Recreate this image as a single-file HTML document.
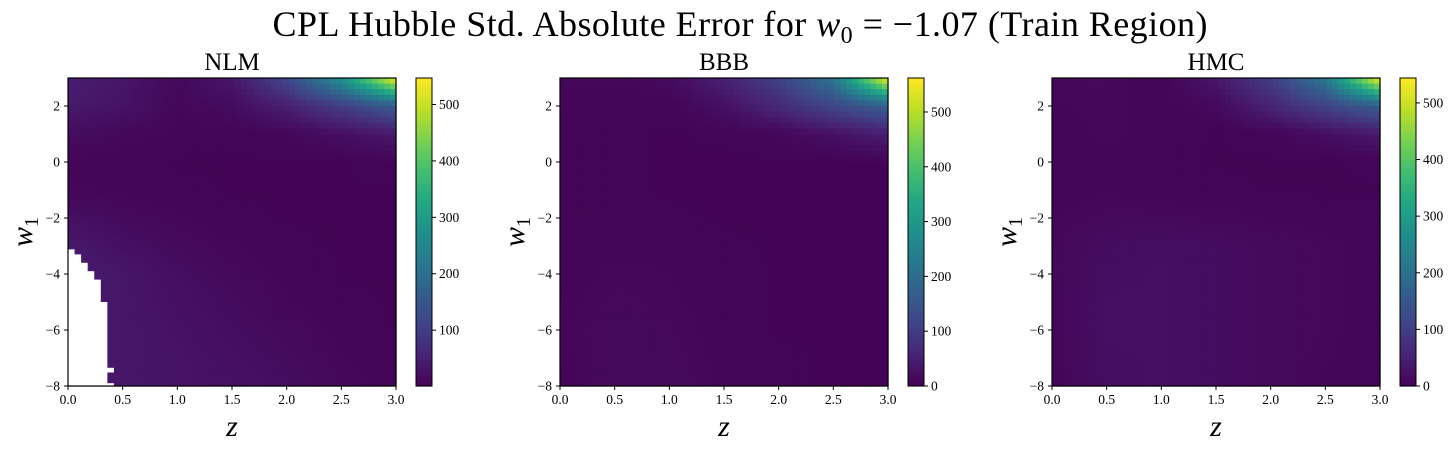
<!DOCTYPE html>
<html><head><meta charset="utf-8">
<style>
body{margin:0;background:#fff;width:1456px;height:448px;overflow:hidden;font-family:"Liberation Serif",serif;}
svg text{font-family:"Liberation Serif",serif;fill:#000;}
</style></head>
<body>
<svg id="fig" width="1456" height="448" xmlns="http://www.w3.org/2000/svg">
<text x="740" y="36" font-size="36" text-anchor="middle" textLength="935" lengthAdjust="spacing">CPL Hubble Std.  Absolute Error for <tspan font-style="italic">w</tspan><tspan font-size="24" dy="7">0</tspan><tspan dy="-7"> = −1.07 (Train Region)</tspan></text>
</svg>
<script>
// grid node positions
const zNodes = [0, 0.5, 1.0, 1.5, 2.0, 2.5, 3.0];
const w1Nodes = [3, 2, 1, 0, -1, -2, -3, -4, -5, -6, -7, -8];
const xTicks = [0.0, 0.5, 1.0, 1.5, 2.0, 2.5, 3.0];
const yTicks = [2, 0, -2, -4, -6, -8];
const panelTitles = ["NLM", "BBB", "HMC"];
const cbMax = [547, 562, 544];
const cbMin = [1, 0, 0];
const cbTicksNLM = [100, 200, 300, 400, 500];
const cbTicksBBB = [0, 100, 200, 300, 400, 500];
const cbTicksHMC = [0, 100, 200, 300, 400, 500];
const valuesNLM = [
 [45,35,12,35,120,280,545],
 [40,30,10,18,50,100,160],
 [20,12,8,6,10,22,40],
 [8,6,5,5,5,5,8],
 [10,8,6,5,5,5,5],
 [25,15,10,6,5,5,5],
 [40,25,15,10,6,5,5],
 [45,35,22,14,8,5,5],
 [40,35,25,18,10,6,5],
 [40,35,28,20,14,8,5],
 [40,35,30,24,18,10,6],
 [40,35,30,26,20,12,8]];
const valuesBBB = [
 [10,10,15,55,110,220,560],
 [8,6,5,25,65,120,170],
 [6,5,4,5,10,25,50],
 [6,5,4,4,4,4,4],
 [6,5,4,4,4,4,4],
 [6,6,5,4,4,4,4],
 [6,8,7,5,4,4,4],
 [6,10,9,6,4,4,4],
 [7,12,10,6,4,4,4],
 [8,14,12,6,4,4,4],
 [7,14,13,7,5,4,4],
 [6,14,14,8,5,4,4]];
const valuesHMC = [
 [10,12,5,35,100,220,545],
 [8,10,6,12,55,110,160],
 [6,10,6,4,6,20,40],
 [5,6,5,4,4,4,5],
 [6,8,6,5,4,4,4],
 [8,12,12,10,8,6,5],
 [10,18,20,18,14,10,6],
 [10,20,22,18,14,10,6],
 [8,22,22,18,14,10,6],
 [8,22,22,18,14,10,6],
 [7,21,22,18,14,9,5],
 [6,20,22,18,14,8,4]];
// NaN (white) region for NLM
const nanTop = [-3.12, -3.3, -3.6, -3.9, -4.2, -5.0, -7.35, -7.5];
const nanBottom = [-3.3, -3.6, -3.9, -4.2, -5.0, -7.35, -7.5, -7.9];
const nanZmax = [0.06, 0.12, 0.18, 0.24, 0.30, 0.36, 0.42, 0.36];
const nanLastTop = -7.9, nanLastZ = 0.42;

const NS = "http://www.w3.org/2000/svg";
const svg = document.getElementById('fig');
const panelX = [68, 560, 1052];
const AW = 328, AH = 308, AT = 78;
const allVals = [valuesNLM, valuesBBB, valuesHMC];
const allCbTicks = [cbTicksNLM, cbTicksBBB, cbTicksHMC];

const vir = [[68,1,84],[72,35,116],[64,67,135],[52,94,141],[41,120,142],[32,144,140],[34,167,132],[68,190,112],[121,209,81],[189,223,38],[253,231,37]];
function viridis(t){t=Math.max(0,Math.min(1,t));const f=t*10,i=Math.min(9,Math.floor(f)),r=f-i;const a=vir[i],b=vir[i+1];return 'rgb('+a.map((v,k)=>Math.round(v+(b[k]-v)*r)).join(',')+')';}
function mk(tag,attrs,parent){const e=document.createElementNS(NS,tag);for(const k in attrs)e.setAttribute(k,attrs[k]);(parent||svg).appendChild(e);return e;}
function sample(vals,z,w){
 const zi=Math.min(zNodes.length-2,Math.floor(z/0.5)),zr=(z-zNodes[zi])/0.5;
 const wi=Math.min(w1Nodes.length-2,Math.floor(3-w)),wr=(w1Nodes[wi]-w);
 const a=vals[wi][zi],b=vals[wi][zi+1],c=vals[wi+1][zi],d=vals[wi+1][zi+1];
 return (a*(1-zr)+b*zr)*(1-wr)+(c*(1-zr)+d*zr)*wr;
}

for(let p=0;p<3;p++){
 const X0=panelX[p];
 const xs=z=>X0+z/3*AW;
 const ys=w=>AT+(3-w)/11*AH;
 const g=mk('g',{});
 
 
 const N=55, M=55;
 for(let j=0;j<M;j++){
  for(let i=0;i<N;i++){
   const z=(i+0.5)/N*3, w=3-(j+0.5)/M*11;
   const v=sample(allVals[p],z,w);
   const r=mk('rect',{x:(xs(i/N*3)).toFixed(2),y:(ys(3-j/M*11)).toFixed(2),width:(AW/N+0.6).toFixed(2),height:(AH/M+0.6).toFixed(2),fill:viridis((v-cbMin[p])/(cbMax[p]-cbMin[p]))},g);
   
   
  }
 }
 if(p===0){
  for(let k=0;k<nanTop.length;k++){
   const r=mk('rect',{x:xs(0),y:ys(nanTop[k]),width:xs(nanZmax[k])-xs(0),height:ys(nanBottom[k])-ys(nanTop[k])+0.5,fill:'#fff'});
   
   
  }
  const r=mk('rect',{x:xs(0),y:ys(nanLastTop),width:xs(nanLastZ)-xs(0),height:ys(-8)-ys(nanLastTop),fill:'#fff'});
  
  
 }
 const fr=mk('rect',{x:X0,y:AT,width:AW,height:AH,fill:'none',stroke:'#000','stroke-width':1.2});
 
 
 const t=mk('text',{x:X0+AW/2,y:70,'font-size':25,'text-anchor':'middle'});
 t.textContent=panelTitles[p];
 
 
 xTicks.forEach(v=>{
  mk('line',{x1:xs(v),x2:xs(v),y1:AT+AH,y2:AT+AH+4,stroke:'#000'});
  const tx=mk('text',{x:xs(v),y:AT+AH+18,'font-size':13.5,'text-anchor':'middle'});
  tx.textContent=v.toFixed(1);
  
  
 });
 yTicks.forEach(v=>{
  mk('line',{x1:X0-4,x2:X0,y1:ys(v),y2:ys(v),stroke:'#000'});
  const tx=mk('text',{x:X0-8,y:ys(v)+4.5,'font-size':13.5,'text-anchor':'end'});
  tx.textContent=(v<0?'−':'')+Math.abs(v);
  
  
 });
 const xl=mk('text',{x:X0+AW/2,y:436,'font-size':30,'font-style':'italic','text-anchor':'middle'});
 xl.textContent='z';
 
 
 const yl=mk('text',{x:0,y:0,'font-size':30,'font-style':'italic','text-anchor':'middle',transform:'translate('+(X0-36)+','+(AT+AH/2)+') rotate(-90)'});
 yl.innerHTML='w<tspan font-size="20" font-style="normal" dy="6">1</tspan>';
 
 
 // colorbar
 const CX=X0+348, CW=16;
 const cg=mk('g',{});
 
 
 for(let k=0;k<AH;k++){
  mk('rect',{x:CX,y:AT+AH-k-1,width:CW,height:1.6,fill:viridis((k+0.5)/AH)},cg);
 }
 mk('rect',{x:CX,y:AT,width:CW,height:AH,fill:'none',stroke:'#000','stroke-width':1},cg);
 const cs=v=>AT+AH-(v-cbMin[p])/(cbMax[p]-cbMin[p])*AH;
 allCbTicks[p].forEach(v=>{
  mk('line',{x1:CX+CW,x2:CX+CW+4,y1:cs(v),y2:cs(v),stroke:'#000'},cg);
  const tx=mk('text',{x:CX+CW+7,y:cs(v)+4.5,'font-size':13.5},cg);
  tx.textContent=v;
  
  
 });
}
</script>
</body></html>
